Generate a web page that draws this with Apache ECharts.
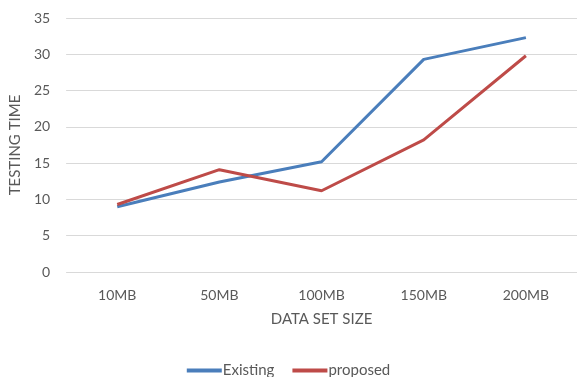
<!DOCTYPE html>
<html><head><meta charset="utf-8">
<script src="https://cdn.jsdelivr.net/npm/echarts@6/dist/echarts.min.js"></script>
<style>html,body{margin:0;padding:0;background:#fff}#c{width:577px;height:377px}</style>
</head><body><div id="c"></div>
<script>
const categories = ['10MB', '50MB', '100MB', '150MB', '200MB'];
const existing = [9.0, 12.4, 15.2, 29.3, 32.3];
const proposed = [9.3, 14.1, 11.2, 18.2, 29.8];
const yTicks = { min: 0, max: 35, interval: 5 };
const font = 'Lato, "Open Sans", sans-serif';
const chart = echarts.init(document.getElementById('c'));
chart.setOption({
  animation: false,
  textStyle: { fontFamily: font },
  grid: { left: 61, top: 18, width: 522, height: 254, containLabel: false },
  legend: {
    top: 358, left: 'center', itemWidth: 35, itemHeight: 4, itemGap: 18,
    icon: 'rect',
    textStyle: { color: '#595959', fontSize: 15, fontFamily: font, padding: [0, 0, 0, -4] },
    data: ['Existing', 'proposed']
  },
  xAxis: {
    type: 'category', data: categories, boundaryGap: true,
    name: 'DATA SET SIZE', nameLocation: 'middle', nameGap: 40,
    nameTextStyle: { color: '#595959', fontSize: 15, fontFamily: font },
    axisLine: { show: false }, axisTick: { show: false },
    axisLabel: { color: '#595959', fontSize: 14, margin: 16, fontFamily: font }
  },
  yAxis: {
    type: 'value', min: yTicks.min, max: yTicks.max, interval: yTicks.interval,
    name: 'TESTING TIME', nameLocation: 'middle', nameGap: 35,
    nameTextStyle: { color: '#595959', fontSize: 15, fontFamily: font },
    axisLine: { show: false }, axisTick: { show: false },
    axisLabel: { color: '#595959', fontSize: 14, margin: 16, fontFamily: font },
    splitLine: { lineStyle: { color: '#d9d9d9', width: 1 } }
  },
  series: [
    { name: 'Existing', type: 'line', data: existing, symbol: 'none',
      lineStyle: { color: '#4a7ebb', width: 3 }, itemStyle: { color: '#4a7ebb' } },
    { name: 'proposed', type: 'line', data: proposed, symbol: 'none',
      lineStyle: { color: '#be4b48', width: 3 }, itemStyle: { color: '#be4b48' } }
  ]
});
</script></body></html>
